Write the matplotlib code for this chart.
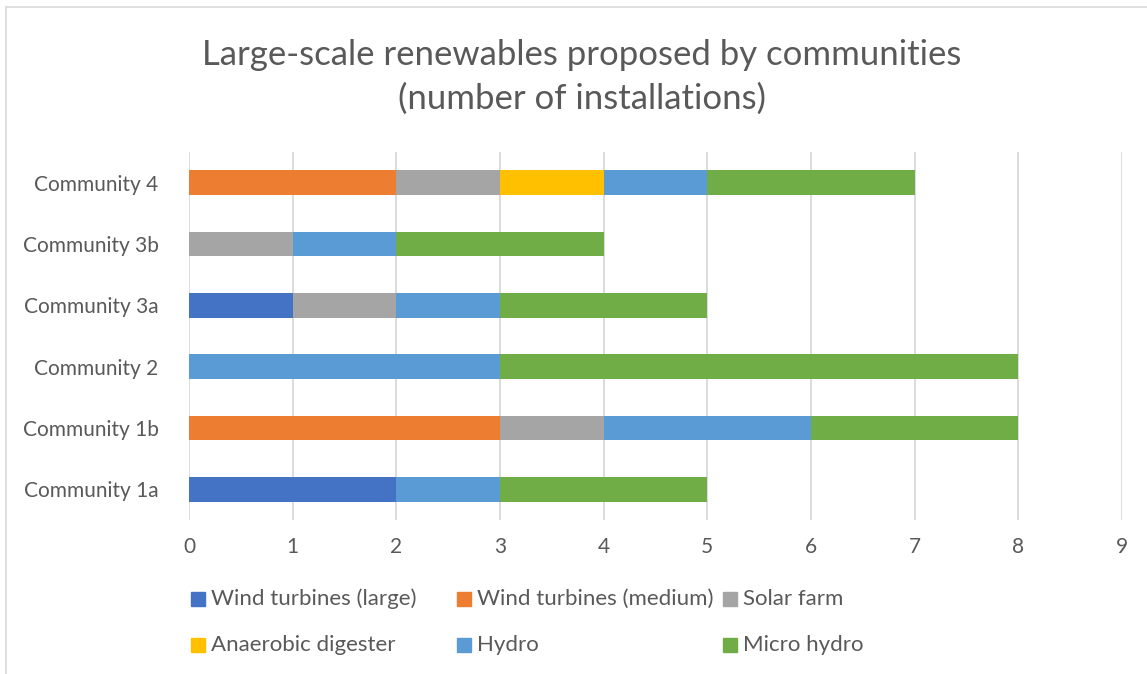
import numpy as np
import matplotlib.pyplot as plt
from matplotlib.patches import Rectangle

plt.rcParams['font.family'] = ['Lato', 'DejaVu Sans']

# data, bottom row first
communities = ["Community 1a", "Community 1b", "Community 2",
               "Community 3a", "Community 3b", "Community 4"]
wind_large  = [2, 0, 0, 1, 0, 0]
wind_medium = [0, 3, 0, 0, 0, 2]
solar_farm  = [0, 1, 0, 1, 1, 1]
anaerobic   = [0, 0, 0, 0, 0, 1]
hydro       = [1, 2, 3, 1, 1, 1]
micro_hydro = [2, 2, 5, 2, 2, 2]

series_names = ["Wind turbines (large)", "Wind turbines (medium)", "Solar farm",
                "Anaerobic digester", "Hydro", "Micro hydro"]
series_vals = [wind_large, wind_medium, solar_farm, anaerobic, hydro, micro_hydro]
colors = ["#4472C4", "#ED7D31", "#A5A5A5", "#FFC000", "#5B9BD5", "#70AD47"]

TXT = "#595959"
GRID = "#D9D9D9"

fig = plt.figure(figsize=(11.47, 6.74), dpi=100)
ax = fig.add_axes([189 / 1147, 1 - 520 / 674, (1122 - 189) / 1147, (520 - 152) / 674])

y = np.arange(len(communities))
left = np.zeros(len(communities))
for name, vals, c in zip(series_names, series_vals, colors):
    vals = np.array(vals, dtype=float)
    ax.barh(y, vals, left=left, height=0.4, color=c, label=name, zorder=3)
    left += vals

ax.set_xlim(0, 9)
ax.set_ylim(-0.5, len(communities) - 0.5)
ax.set_xticks(range(10))
ax.set_yticks(y)
ax.set_yticklabels(communities)
ax.grid(axis="x", color=GRID, linewidth=1.3, zorder=0)
for s in ax.spines.values():
    s.set_visible(False)
ax.tick_params(axis="both", length=0, labelsize=15, colors=TXT)
ax.tick_params(axis="x", pad=12)
ax.tick_params(axis="y", pad=22)

fig.text(582 / 1147, 1 - 77 / 674,
         "Large-scale renewables proposed by communities\n(number of installations)",
         ha="center", va="center", fontsize=25, color=TXT, linespacing=1.42)

# legend laid out like Excel: three columns, two rows
col_x = [191, 457, 723]
row_y = [599, 645]
for i, (name, c) in enumerate(zip(series_names, colors)):
    px = col_x[i % 3]
    py = row_y[i // 3]
    fig.add_artist(Rectangle((px / 1147, 1 - (py + 7) / 674), 14 / 1147, 14 / 674,
                             transform=fig.transFigure, color=c))
    fig.text((px + 20) / 1147, 1 - py / 674, name, ha="left", va="center",
             fontsize=16, color=TXT)

# chart frame
fig.add_artist(Rectangle((6 / 1147, -0.05), 1.2, 1 - 7 / 674 + 0.05,
                         transform=fig.transFigure, fill=False,
                         edgecolor=GRID, linewidth=1.2))

fig.savefig("out.png", dpi=100)
